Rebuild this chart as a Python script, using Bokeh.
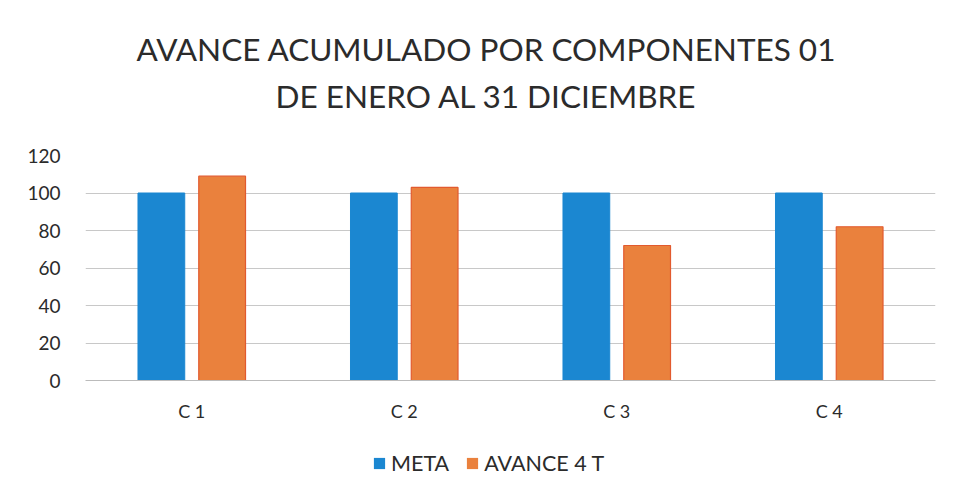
from bokeh.plotting import figure
from bokeh.models import ColumnDataSource, FactorRange, Range1d, Label, Legend, LegendItem
from bokeh.layouts import column
from bokeh.transform import dodge
from bokeh.embed import file_html
from bokeh.resources import INLINE

categories = ["C 1", "C 2", "C 3", "C 4"]
meta = [100, 100, 100, 100]
avance = [109, 103, 72, 82]
series_names = ["META", "AVANCE 4 T"]
title_lines = ["AVANCE ACUMULADO POR COMPONENTES 01", "DE ENERO AL 31 DICIEMBRE"]
y_ticks = [0, 20, 40, 60, 80, 100, 120]

FONT = "Lato"
BLUE = "#1b87d1"
ORANGE = "#ea813d"
ORANGE_EDGE = "#e25a2e"
TEXT = "#2b2b2b"
W = 953
LEFT, RIGHT = 85, 18


def blank(height, x_range, y_range):
    f = figure(width=W, height=height, x_range=x_range, y_range=y_range,
               output_backend="svg", toolbar_location=None,
               x_axis_location=None, y_axis_location=None,
               min_border_left=LEFT, min_border_right=RIGHT, min_border_top=0, min_border_bottom=0)
    f.grid.visible = False
    f.outline_line_color = None
    f.border_fill_color = "white"
    return f


src = ColumnDataSource(dict(cat=categories, meta=meta, avance=avance))

# ---- title block (x data units == page pixels)
pt = blank(130, Range1d(LEFT, W - RIGHT), Range1d(0, 130))
for line, ypos in zip(title_lines, [82, 35]):
    pt.add_layout(Label(x=486, y=ypos, text=line, text_align="center", text_baseline="middle",
                        text_font=FONT, text_font_size="31.5px", text_color=TEXT))

# ---- chart
p = figure(width=W, height=300, x_range=FactorRange(*categories, range_padding=0),
           y_range=Range1d(0, 120), output_backend="svg", toolbar_location=None,
           min_border_left=LEFT, min_border_right=RIGHT, min_border_top=25, min_border_bottom=50)
p.outline_line_color = None
p.border_fill_color = "white"

p.vbar(x=dodge("cat", -0.143, range=p.x_range), top="meta", width=0.22, source=src,
       fill_color=BLUE, line_color=BLUE)
p.vbar(x=dodge("cat", 0.143, range=p.x_range), top="avance", width=0.22, source=src,
       fill_color=ORANGE, line_color=ORANGE_EDGE, line_width=1.2)

p.yaxis.ticker = y_ticks
p.yaxis.axis_line_color = None
p.yaxis.major_tick_line_color = None
p.yaxis.minor_tick_line_color = None
p.yaxis.major_label_text_font = FONT
p.yaxis.major_label_text_font_size = "19px"
p.yaxis.major_label_text_color = TEXT
p.yaxis.major_label_standoff = 19

p.xaxis.axis_line_color = "#bbbbbb"
p.xaxis.major_tick_line_color = None
p.xaxis.minor_tick_line_color = None
p.xaxis.major_label_text_font = FONT
p.xaxis.major_label_text_font_size = "18px"
p.xaxis.major_label_text_color = TEXT
p.xaxis.major_label_standoff = 13

p.xgrid.grid_line_color = None
p.ygrid.grid_line_color = "#c8c8c8"
p.ygrid.grid_line_width = 1

# ---- legend block (series renderers kept far outside this strip's visible y range)
pl = blank(66, FactorRange(*categories, range_padding=0), Range1d(1000, 1100))
l1 = pl.vbar(x="cat", top="meta", width=0.22, source=src, fill_color=BLUE, line_color=None)
l2 = pl.vbar(x="cat", top="avance", width=0.22, source=src, fill_color=ORANGE, line_color=None)
legend = Legend(items=[LegendItem(label=series_names[0], renderers=[l1]),
                       LegendItem(label=series_names[1], renderers=[l2])],
                orientation="horizontal", location=(287, 20),
                label_text_font=FONT, label_text_font_size="21.5px", label_text_color=TEXT,
                glyph_width=14, glyph_height=14, spacing=16, label_standoff=5,
                border_line_color=None, background_fill_alpha=0, margin=0, padding=4)
pl.add_layout(legend, "center")

layout = column(pt, p, pl, spacing=0)
open("out.html", "w").write(file_html(layout, INLINE))
